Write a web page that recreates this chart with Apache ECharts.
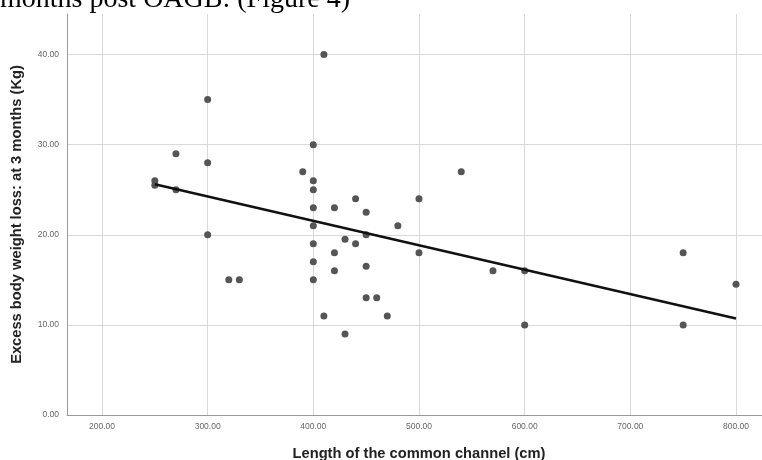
<!DOCTYPE html>
<html><head><meta charset="utf-8">
<script src="https://cdn.jsdelivr.net/npm/echarts@6/dist/echarts.min.js"></script>
<style>html,body{margin:0;padding:0;background:#fff}#c{width:762px;height:460px}</style>
</head><body><div id="c"></div>
<script>
// Length of the common channel (cm)
const channelLength = [250, 250, 270, 270, 300, 300, 300, 320, 330, 390,
  400, 400, 400, 400, 400, 400, 400, 400, 410, 410,
  420, 420, 420, 430, 430, 440, 440, 450, 450, 450,
  450, 460, 470, 480, 500, 500, 540, 570, 600, 600,
  750, 750, 800];
// Excess body weight loss at 3 months (Kg)
const weightLoss = [26, 25.5, 29, 25, 35, 28, 20, 15, 15, 27,
  30, 26, 25, 23, 21, 19, 17, 15, 40, 11,
  23, 18, 16, 19.5, 9, 24, 19, 22.5, 20, 16.5,
  13, 13, 11, 21, 24, 18, 27, 16, 16, 10,
  18, 10, 14.5];
// Fitted line end points
const fitX = [250, 800];
const fitY = [25.6, 10.7];
const xTicks = [200, 300, 400, 500, 600, 700, 800];
const yTicks = [0, 10, 20, 30, 40];
const headerText = 'months post OAGB: (Figure 4)';
const xTitle = 'Length of the common channel (cm)';
const yTitle = 'Excess body weight loss: at 3 months (Kg)';

const points = channelLength.map((x, i) => [x, weightLoss[i]]);
const fitLine = fitX.map((x, i) => [x, fitY[i]]);

const chart = echarts.init(document.getElementById('c'), null, {renderer: 'canvas'});
chart.setOption({
  animation: false,
  backgroundColor: '#fff',
  grid: {left: 67, right: 0, top: 14, bottom: 45, containLabel: false, outerBoundsMode: 'none'},
  graphic: [{
    type: 'text', left: 0, top: -14,
    style: {text: headerText, font: '28px "Liberation Serif", "Times New Roman", serif', fill: '#000'}
  }],
  xAxis: {
    type: 'value', min: 166.9, max: 824.6,
    name: xTitle, nameLocation: 'middle', nameGap: 31,
    nameTextStyle: {fontFamily: 'Liberation Sans, Arial', fontSize: 14.7, fontWeight: 'bold', color: '#222', padding: [0, 0, 0, 9]},
    axisLine: {show: true, lineStyle: {color: '#999', width: 1}},
    axisTick: {show: false, customValues: xTicks},
    axisLabel: {customValues: xTicks, formatter: v => v.toFixed(2), fontFamily: 'Liberation Sans, Arial', fontSize: 8.5, color: '#666', margin: 7},
    splitLine: {show: true, lineStyle: {color: '#d9d9d9', width: 1}}
  },
  yAxis: {
    type: 'value', min: 0, max: 44.5,
    name: yTitle, nameLocation: 'middle', nameGap: 43,
    nameTextStyle: {fontFamily: 'Liberation Sans, Arial', fontSize: 14.7, fontWeight: 'bold', color: '#222'},
    axisLine: {show: true, lineStyle: {color: '#999', width: 1}},
    axisTick: {show: false, customValues: yTicks},
    axisLabel: {customValues: yTicks, formatter: v => v.toFixed(2), fontFamily: 'Liberation Sans, Arial', fontSize: 8.5, color: '#666', margin: 8},
    splitLine: {show: true, lineStyle: {color: '#d9d9d9', width: 1}}
  },
  series: [{
    type: 'scatter', data: points, symbolSize: 7,
    itemStyle: {color: '#555', opacity: 1}, z: 3
  }, {
    type: 'line', data: fitLine, symbol: 'none',
    lineStyle: {color: '#111', width: 2.5}, z: 4
  }]
});
</script>
</body></html>
